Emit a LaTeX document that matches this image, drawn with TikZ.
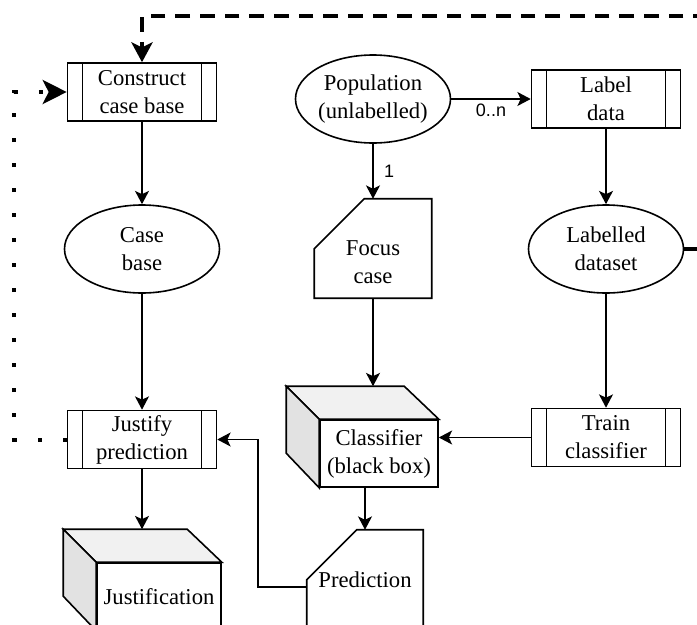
\documentclass[tikz,border=0pt]{standalone}
\usepackage{fontspec}
\setmainfont{Liberation Serif}
\newfontfamily\labelfont{Liberation Sans}
\usetikzlibrary{shapes.geometric, arrows.meta, positioning, calc}
\definecolor{cubetop}{RGB}{241,241,241}
\definecolor{cubeside}{RGB}{226,226,226}
\tikzset{
  every node/.style={font=\fontsize{17}{21}\selectfont, align=center},
  procbox/.style={draw, line width=1.2pt, minimum width=111.75pt, minimum height=43.5pt, inner sep=0pt,
    path picture={\draw[line width=1.2pt]
      ([xshift=11.25pt]path picture bounding box.north west) -- ([xshift=11.25pt]path picture bounding box.south west)
      ([xshift=-11.25pt]path picture bounding box.north east) -- ([xshift=-11.25pt]path picture bounding box.south east);}},
  dataset/.style={draw, ellipse, line width=1.2pt, minimum width=116.25pt, minimum height=66pt, inner sep=0pt},
  cardbox/.style={minimum width=87.75pt, minimum height=74.25pt, inner sep=0pt},
  cubefront/.style={draw, fill=white, line width=1.2pt, minimum width=88.5pt, minimum height=50.25pt, inner sep=0pt},
  flow/.style={line width=1.2pt, -{Stealth[length=10pt, width=10.5pt, inset=2.5pt]}},
  feedback/.style={line width=2.6pt, dash pattern=on 11pt off 7.5pt, -{Stealth[length=15pt, width=16pt, inset=4pt]}},
  loopback/.style={line width=3pt, dash pattern=on 3pt off 15.75pt, -{Stealth[length=18pt, width=18pt, inset=4.5pt]}},
  mult/.style={font=\labelfont\fontsize{13.5}{15}\selectfont}
}

\begin{document}
\begin{tikzpicture}[x=0.75pt, y=-0.75pt]
  \useasboundingbox (0,0) rectangle (697,625);
  \clip (0,0) rectangle (697,625);

  % left column
  \node[procbox] (construct) at (142,92) {Construct\\case base};
  \node[dataset] (casebase) at (142,249) {Case\\base};
  \node[procbox] (justify) at (142,439.5) {Justify\\prediction};
  \node[cubefront, minimum width=93pt] (justification) at (159,596.5) {Justification};

  % middle column
  \node[dataset] (population) at (373,99) {Population\\(unlabelled)};
  \node[cardbox] (focus) at (373,248.5) {};
  \node (focustext) at ([yshift=-10.5pt]focus.center) {Focus\\case};
  \node[cubefront] (classifier) at (379,453.5) {Classifier\\(black box)};
  \node[cardbox, minimum width=87pt] (prediction) at (365,579.5) {Prediction};

  % right column
  \node[procbox] (labeldata) at (606,99) {Label\\data};
  \node[dataset] (labelled) at (606,249) {Labelled\\dataset};
  \node[procbox] (train) at (606,437.5) {Train\\classifier};

  % card outlines
  \draw[line width=1.2pt] ([xshift=37.5pt]focus.north west) -- (focus.north east) -- (focus.south east)
    -- (focus.south west) -- ([yshift=-37.5pt]focus.north west) -- cycle;
  \draw[line width=1.2pt] ([xshift=37.5pt]prediction.north west) -- (prediction.north east) -- (prediction.south east)
    -- (prediction.south west) -- ([yshift=-37.5pt]prediction.north west) -- cycle;

  % cube faces
  \filldraw[fill=cubetop, line width=1.2pt] (classifier.north west) -- ++(-33,-33) -- ++(118,0) -- (classifier.north east) -- cycle;
  \filldraw[fill=cubeside, line width=1.2pt] (classifier.north west) -- ++(-33,-33) -- ++(0,67) -- (classifier.south west) -- cycle;
  \filldraw[fill=cubetop, line width=1.2pt] (justification.north west) -- ++(-33,-33) -- ++(124,0) -- (justification.north east) -- cycle;
  \filldraw[fill=cubeside, line width=1.2pt] (justification.north west) -- ++(-33,-33) -- ++(0,67) -- (justification.south west) -- cycle;

  \coordinate (classtop) at ([shift={(-5,-33)}]classifier.north);
  \coordinate (justtop) at ([shift={(-17,-33)}]justification.north);
  \coordinate (dashcorner) at (740,16);
  \coordinate (dotcorner) at (14,92);

  % connectors
  \draw[flow] (construct.south) -- (casebase.north);
  \draw[flow] (casebase.south) -- (justify.north);
  \draw[flow] (justify.south) -- (justtop);
  \draw[flow] (population.east) -- node[mult, below] {0..n} (labeldata.west);
  \draw[flow] (population.south) -- node[mult, right, xshift=4.5pt] {1} (focus.north);
  \draw[flow] (labeldata.south) -- (labelled.north);
  \draw[flow] (labelled.south) -- (train.north);
  \draw[flow] (focus.south) -- (focus.south |- classtop);
  \draw[flow] (train.west) -- (train.west -| classifier.east);
  \draw[flow] (prediction.north |- classifier.south) -- (prediction.north);
  \draw[flow] ([yshift=-5.6pt]prediction.west) -- ++(-49,0) |- (justify.east);

  % feedback loops
  \draw[feedback] (labelled.east) -| (dashcorner) -| (construct.north);
  \draw[loopback] (justify.west) -| (dotcorner) -- (construct.west);
\end{tikzpicture}
\end{document}
